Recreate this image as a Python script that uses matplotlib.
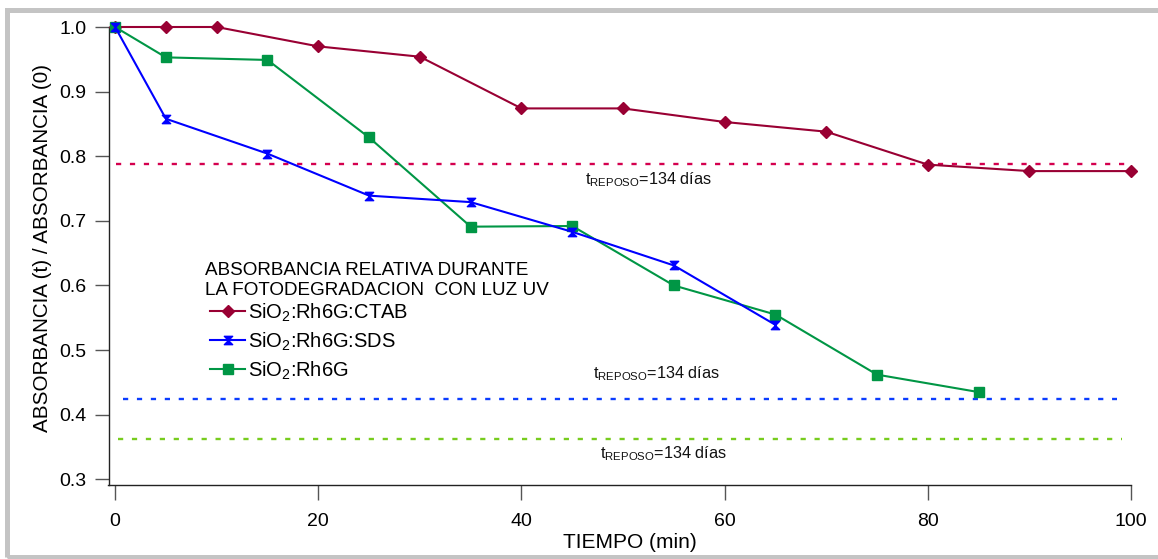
import matplotlib
matplotlib.use("Agg")
import matplotlib.pyplot as plt
from matplotlib.path import Path
from matplotlib.patches import Rectangle

plt.rcParams['font.family'] = ['Liberation Sans', 'DejaVu Sans']
plt.rcParams['mathtext.fontset'] = 'custom'
plt.rcParams['mathtext.rm'] = 'Liberation Sans'
plt.rcParams['mathtext.it'] = 'Liberation Sans:italic'
plt.rcParams['mathtext.bf'] = 'Liberation Sans:bold'

# Photodegradation under UV light: relative absorbance A(t)/A(0)
t_ctab = [0, 5, 10, 20, 30, 40, 50, 60, 70, 80, 90, 100]
a_ctab = [1.0, 1.0, 1.0, 0.970, 0.954, 0.874, 0.874, 0.853, 0.838, 0.787, 0.777, 0.777]

t_sds = [0, 5, 15, 25, 35, 45, 55, 65]
a_sds = [1.0, 0.858, 0.804, 0.739, 0.729, 0.683, 0.631, 0.539]

t_rh6g = [0, 5, 15, 25, 35, 45, 55, 65, 75, 85]
a_rh6g = [1.0, 0.953, 0.949, 0.829, 0.691, 0.692, 0.600, 0.555, 0.462, 0.435]

# Relative absorbance after 134 days of rest (reference levels)
rest_ctab = 0.788
rest_sds = 0.424
rest_rh6g = 0.362

labels = [r'SiO$_\mathregular{2}$:Rh6G:CTAB',
          r'SiO$_\mathregular{2}$:Rh6G:SDS',
          r'SiO$_\mathregular{2}$:Rh6G']
legend_title = ['ABSORBANCIA RELATIVA DURANTE',
                'LA FOTODEGRADACION  CON LUZ UV']
rest_label = r't$_\mathregular{REPOSO}$=134 días'
x_ticks = [0, 20, 40, 60, 80, 100]
y_ticks = [0.3, 0.4, 0.5, 0.6, 0.7, 0.8, 0.9, 1.0]

c_ctab = '#990033'
c_sds = '#0000ff'
c_rh6g = '#009645'
c_rest_ctab = '#d4004e'
c_rest_sds = '#0a3cff'
c_rest_rh6g = '#77cc1e'

# hourglass marker: two triangles meeting at the centre
hourglass = Path([(-1, 1), (1, 1), (0, 0), (-1, -1), (1, -1), (0, 0), (-1, 1)],
                 [Path.MOVETO, Path.LINETO, Path.LINETO, Path.LINETO,
                  Path.LINETO, Path.LINETO, Path.CLOSEPOLY])

W, H = 1158, 559
fig = plt.figure(figsize=(W / 100, H / 100), dpi=100)
ax = fig.add_axes([108.5 / W, (H - 485) / H, (1131 - 108.5) / W, (485 - 27) / H])

# outer light-grey frame
fig.patches.append(Rectangle((7.5 / W, 2.0 / H), 1.2, (555 - 7.5) / H,
                             transform=fig.transFigure, fill=False,
                             edgecolor='#c4c4c4', linewidth=3.6))

dash = (0, (2.2, 3.7))
ax.hlines(rest_ctab, 0.1, 100.4, colors=c_rest_ctab, linewidth=1.7, linestyles=[dash])
ax.hlines(rest_sds, 0.8, 98.6, colors=c_rest_sds, linewidth=1.7, linestyles=[dash])
ax.hlines(rest_rh6g, 0.3, 99.1, colors=c_rest_rh6g, linewidth=1.7, linestyles=[dash])

l1, = ax.plot(t_ctab, a_ctab, color=c_ctab, lw=1.5, marker='D', ms=6.0,
              clip_on=False, zorder=3)
l3, = ax.plot(t_rh6g, a_rh6g, color=c_rh6g, lw=1.5, marker='s', ms=7.2,
              clip_on=False, zorder=3)
l2, = ax.plot(t_sds, a_sds, color=c_sds, lw=1.5, marker=hourglass, ms=6.0,
              clip_on=False, zorder=4)

txt_kw = dict(fontsize=11.7, color='#111111', va='baseline', ha='left')
ax.text(46.3, 0.757, rest_label, **txt_kw)
ax.text(47.0, 0.456, rest_label, **txt_kw)
ax.text(47.7, 0.332, rest_label, **txt_kw)

ax.set_xlim(-0.65, 100)
ax.set_ylim(0.2912, 1.0)
ax.set_xticks(x_ticks)
ax.set_yticks(y_ticks)
ax.set_xticklabels([f'{v:d}' for v in x_ticks])
ax.set_yticklabels([f'{v:.1f}' for v in y_ticks])
for s in ('top', 'right'):
    ax.spines[s].set_visible(False)
for s in ('left', 'bottom'):
    ax.spines[s].set_linewidth(1.0)
    ax.spines[s].set_color('#222222')
ax.tick_params(axis='x', direction='out', length=11, width=1.0, color='#555555',
               labelsize=14, pad=9)
ax.tick_params(axis='y', direction='out', length=10, width=1.0, color='#555555',
               labelsize=14, pad=6)

ax.set_xlabel('TIEMPO (min)', fontsize=15, labelpad=2)
ax.xaxis.label.set_x(0.51)
ax.set_ylabel('ABSORBANCIA (t) / ABSORBANCIA (0)', fontsize=14.9, labelpad=5)
ax.yaxis.label.set_y(0.517)

# legend heading and entries
for i, line in enumerate(legend_title):
    ax.text(0.0944, 0.469 - i * 0.0437, line, transform=ax.transAxes,
            fontsize=13.6, va='center', ha='left')
ax.legend([l1, l2, l3], labels, loc='upper left', bbox_to_anchor=(0.0993, 0.401),
          frameon=False, fontsize=14.5, handlelength=1.75, handletextpad=0.15,
          labelspacing=0.33, borderpad=0, borderaxespad=0)

fig.savefig('out.png', dpi=100)
